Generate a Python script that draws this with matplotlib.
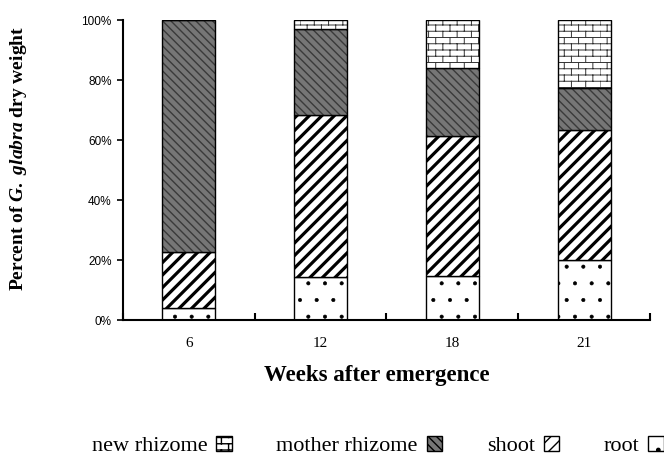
import warnings
import numpy as np
import matplotlib
matplotlib.use('Agg')
import matplotlib.pyplot as plt
import matplotlib.patches as mpatches
import matplotlib.hatch as mhatch
from matplotlib.path import Path

warnings.filterwarnings('ignore')

# data (percent of dry weight)
weeks = ['6', '12', '18', '21']
root = [4.0, 14.5, 14.7, 20.0]
shoot = [18.6, 53.8, 46.6, 43.3]
mother_rhizome = [77.4, 28.7, 22.7, 14.1]
new_rhizome = [0.0, 3.0, 16.0, 22.6]
yticks = [0, 20, 40, 60, 80, 100]


# extra hatch patterns: 'b' = bricks, 'd' = wide diagonal lines
class BrickHatch(mhatch.HatchPatternBase):
    def __init__(self, hatch, density):
        n = hatch.count('b')
        self.rows = 16 * n
        self.cols = 7 * n
        self.num_vertices = 2 * self.rows * (1 + self.cols) if n else 0

    def set_vertices_and_codes(self, vertices, codes):
        k = 0
        for i in range(self.rows):
            y0 = i / self.rows
            y1 = (i + 1) / self.rows
            vertices[k] = (0.0, y0)
            vertices[k + 1] = (1.0, y0)
            codes[k] = Path.MOVETO
            codes[k + 1] = Path.LINETO
            k += 2
            off = 0.5 * (i % 2)
            for j in range(self.cols):
                x = (j + off) / self.cols
                vertices[k] = (x, y0)
                vertices[k + 1] = (x, y1)
                codes[k] = Path.MOVETO
                codes[k + 1] = Path.LINETO
                k += 2


class DiagHatch(mhatch.HatchPatternBase):
    def __init__(self, hatch, density):
        self.num_lines = 16 * hatch.count('d')
        self.num_vertices = (self.num_lines + 1) * 2 if self.num_lines else 0

    def set_vertices_and_codes(self, vertices, codes):
        steps = np.linspace(-0.5, 0.5, self.num_lines + 1)
        vertices[0::2, 0] = 0.0 + steps
        vertices[0::2, 1] = 0.0 - steps
        vertices[1::2, 0] = 1.0 + steps
        vertices[1::2, 1] = 1.0 - steps
        codes[0::2] = Path.MOVETO
        codes[1::2] = Path.LINETO


mhatch._hatch_types.append(BrickHatch)
mhatch._hatch_types.append(DiagHatch)

plt.rcParams['font.family'] = ['Liberation Serif', 'DejaVu Serif']
plt.rcParams['mathtext.fontset'] = 'custom'
plt.rcParams['mathtext.it'] = 'Liberation Serif:italic:bold'
plt.rcParams['mathtext.rm'] = 'Liberation Serif:bold'

styles = [
    # label, values, face, hatch colour, hatch, hatch lw
    ('root', root, 'white', 'black', '.', 0.45),
    ('shoot', shoot, 'white', 'black', 'd', 2.3),
    ('mother rhizome', mother_rhizome, '#767676', '#3a3a3a', '\\\\\\\\', 1.0),
    ('new rhizome', new_rhizome, 'white', '#333333', 'b', 0.7),
]

fig = plt.figure(figsize=(6.64, 4.58), dpi=100)
ax = fig.add_axes([0.185, 0.301, 0.794, 0.655])

x = np.arange(len(weeks))
width = 0.4
bottom = np.zeros(len(weeks))
for label, vals, face, hcol, hatch, hlw in styles:
    vals = np.array(vals)
    plt.rcParams['hatch.linewidth'] = hlw
    bars = ax.bar(x, vals, width, bottom=bottom, color=face, edgecolor=hcol,
                  hatch=hatch, linewidth=0)
    for b in bars:
        try:
            b.set_hatch_linewidth(hlw)
        except AttributeError:
            pass
    ax.bar(x, vals, width, bottom=bottom, fill=False, edgecolor='black',
           linewidth=1.0)
    bottom += vals

ax.set_xlim(-0.5, 3.5)
ax.set_ylim(0, 100)
ax.set_yticks(yticks)
ax.set_yticklabels([f'{v}%' for v in yticks], family='Liberation Sans',
                   fontsize=8.5)
ax.set_xticks(x)
ax.set_xticklabels(weeks, fontsize=11)
ax.set_xticks(np.arange(-0.5, 4, 1), minor=True)
ax.tick_params(axis='x', which='major', length=0, pad=12)
ax.tick_params(axis='x', which='minor', length=5, width=1.5, direction='in')
ax.tick_params(axis='y', length=4, width=1.2, direction='out', pad=4)
for s in ['top', 'right']:
    ax.spines[s].set_visible(False)
for s in ['left', 'bottom']:
    ax.spines[s].set_linewidth(1.5)

fig.text(0.028, 0.653, r'Percent of $\mathit{G.\ glabra}$ dry weight',
         rotation=90, ha='center', va='center', fontsize=14,
         fontweight='bold')
fig.text(0.568, 0.18, 'Weeks after emergence', ha='center', va='center',
         fontsize=16.5, fontweight='bold')

plt.rcParams['hatch.linewidth'] = 1.0
handles = []
labels = []
for label, vals, face, hcol, hatch, hlw in styles[::-1]:
    handles.append(mpatches.Patch(facecolor=face, edgecolor='black',
                                  hatch=hatch, linewidth=1.0))
    labels.append(label)
fig.legend(handles, labels, ncol=4, markerfirst=False, loc='center',
           bbox_to_anchor=(0.569, 0.026), frameon=False, handlelength=0.7,
           handleheight=0.7, handletextpad=0.4, columnspacing=2.0,
           prop={'family': 'Liberation Serif', 'size': 16})

fig.savefig('out.png', dpi=100)
